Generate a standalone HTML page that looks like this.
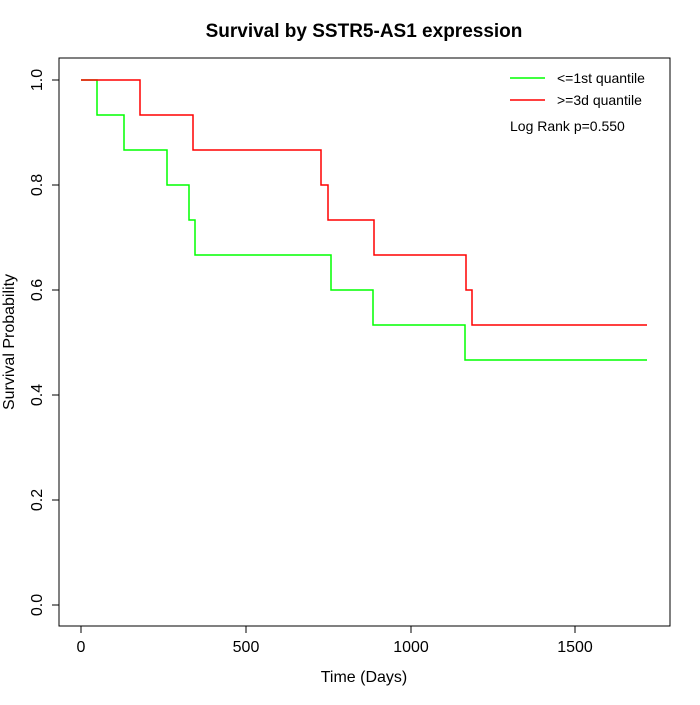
<!DOCTYPE html>
<html><head><meta charset="utf-8"><style>body{margin:0;background:#fff}</style></head><body>
<svg width="700" height="700" xmlns="http://www.w3.org/2000/svg" font-family="Liberation Sans, sans-serif">
<rect width="700" height="700" fill="#fff"/>
<text x="364" y="37" text-anchor="middle" font-size="19" font-weight="bold">Survival by SSTR5-AS1 expression</text>
<rect x="59" y="58" width="611" height="568" fill="none" stroke="#000"/>
<g stroke="#000">
<line x1="81" y1="626" x2="81" y2="633"/><line x1="246" y1="626" x2="246" y2="633"/><line x1="411" y1="626" x2="411" y2="633"/><line x1="575" y1="626" x2="575" y2="633"/>
<line x1="59" y1="605" x2="52" y2="605"/><line x1="59" y1="500" x2="52" y2="500"/><line x1="59" y1="395" x2="52" y2="395"/><line x1="59" y1="290" x2="52" y2="290"/><line x1="59" y1="185" x2="52" y2="185"/><line x1="59" y1="80" x2="52" y2="80"/>
</g>
<g font-size="16" text-anchor="middle">
<text x="81" y="652">0</text><text x="246" y="652">500</text><text x="411" y="652">1000</text><text x="575" y="652">1500</text>
<text transform="translate(42,605) rotate(-90)">0.0</text>
<text transform="translate(42,500) rotate(-90)">0.2</text>
<text transform="translate(42,395) rotate(-90)">0.4</text>
<text transform="translate(42,290) rotate(-90)">0.6</text>
<text transform="translate(42,185) rotate(-90)">0.8</text>
<text transform="translate(42,80) rotate(-90)">1.0</text>
<text x="364" y="682">Time (Days)</text>
<text transform="translate(14,342) rotate(-90)">Survival Probability</text>
</g>
<polyline fill="none" stroke="#00ff00" stroke-width="1.5" points="81,80 97,80 97,115 124,115 124,150 167,150 167,185 189,185 189,220 195,220 195,255 331,255 331,290 373,290 373,325 465,325 465,360 647,360"/>
<polyline fill="none" stroke="#ff0000" stroke-width="1.5" points="81,80 140,80 140,115 193,115 193,150 321,150 321,185 328,185 328,220 374,220 374,255 466,255 466,290 472,290 472,325 647,325"/>
<line x1="510" y1="78" x2="545" y2="78" stroke="#00ff00" stroke-width="1.5"/>
<line x1="510" y1="100" x2="545" y2="100" stroke="#ff0000" stroke-width="1.5"/>
<g font-size="14">
<text x="557" y="83">&lt;=1st quantile</text>
<text x="557" y="105">&gt;=3d quantile</text>
<text x="510" y="131">Log Rank p=0.550</text>
</g>
</svg>
</body></html>
